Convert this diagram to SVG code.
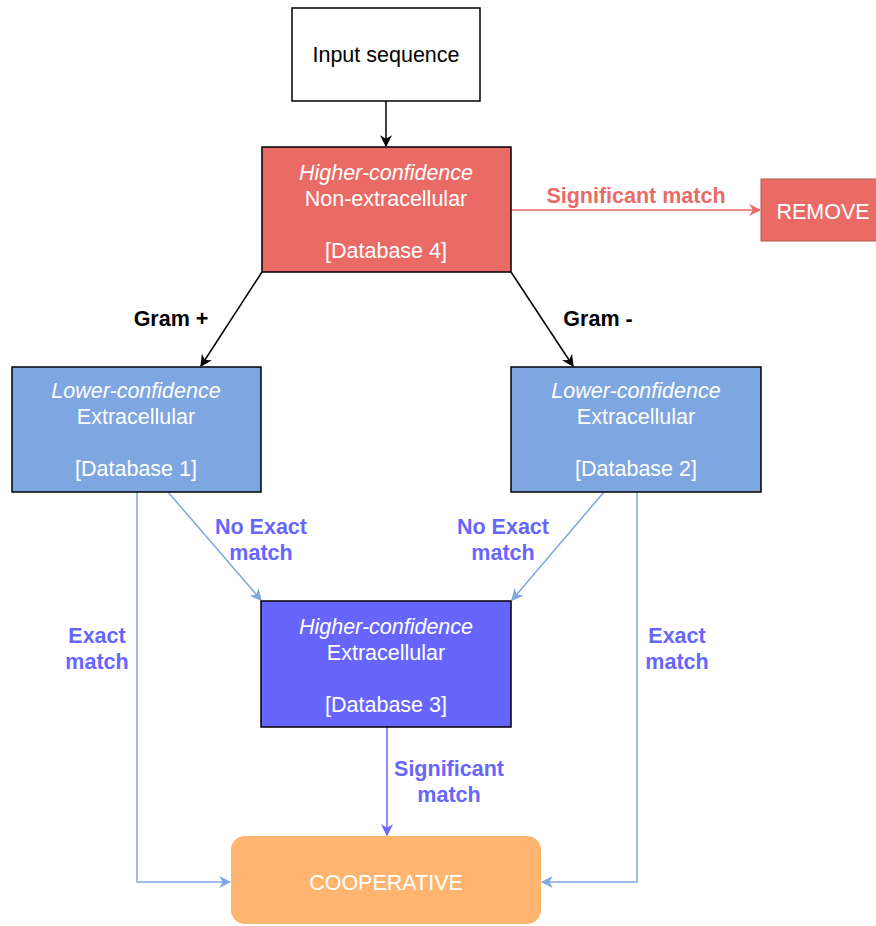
<svg xmlns="http://www.w3.org/2000/svg" width="876" height="926" viewBox="0 0 876 926">
<defs>
<style>
text{font-family:"Liberation Sans",Arial,sans-serif;font-size:21.5px;text-anchor:middle}
.w{fill:#ffffff}
.it{font-style:italic}
.b{font-weight:bold}
.lbk{fill:#000000}
.lpu{fill:#6666FF}
.lre{fill:#EA6B66}
.box{stroke:#000000;stroke-width:1.5}
.ck{fill:none;stroke:#000000;stroke-width:1.5}
.cr{fill:none;stroke:#EA6B66;stroke-width:1.5}
.cb{fill:none;stroke:#7EA6E0;stroke-width:1.5}
.cp{fill:none;stroke:#6666FF;stroke-width:1.5}
</style>
<marker id="ak" viewBox="0 0 10 10" refX="9" refY="5" markerWidth="8" markerHeight="8" markerUnits="strokeWidth" orient="auto"><path d="M0,0 L10,5 L0,10 L3,5 z" fill="#000000"/></marker>
<marker id="ar" viewBox="0 0 10 10" refX="9" refY="5" markerWidth="8" markerHeight="8" markerUnits="strokeWidth" orient="auto"><path d="M0,0 L10,5 L0,10 L3,5 z" fill="#EA6B66"/></marker>
<marker id="ab" viewBox="0 0 10 10" refX="9" refY="5" markerWidth="8" markerHeight="8" markerUnits="strokeWidth" orient="auto"><path d="M0,0 L10,5 L0,10 L3,5 z" fill="#7EA6E0"/></marker>
<marker id="ap" viewBox="0 0 10 10" refX="9" refY="5" markerWidth="8" markerHeight="8" markerUnits="strokeWidth" orient="auto"><path d="M0,0 L10,5 L0,10 L3,5 z" fill="#6666FF"/></marker>
</defs>
<rect width="876" height="926" fill="#ffffff"/>
<g id="connectors">
<line class="ck" x1="386" y1="101" x2="386" y2="146" marker-end="url(#ak)"/>
<line class="cr" x1="511" y1="210" x2="760" y2="210" marker-end="url(#ar)"/>
<line class="ck" x1="262" y1="272" x2="201" y2="366" marker-end="url(#ak)"/>
<line class="ck" x1="511" y1="272" x2="573" y2="366" marker-end="url(#ak)"/>
<line class="cb" x1="168" y1="492" x2="261" y2="600" marker-end="url(#ab)"/>
<line class="cb" x1="604" y1="492" x2="512" y2="600" marker-end="url(#ab)"/>
<polyline class="cb" points="137,492 137,882 230,882" marker-end="url(#ab)"/>
<polyline class="cb" points="637,492 637,882 542,882" marker-end="url(#ab)"/>
<line class="cp" x1="387" y1="727" x2="387" y2="835" marker-end="url(#ap)"/>
<text class="b lre" x="636" y="203">Significant match</text>
<text class="b lbk" x="171" y="326">Gram +</text>
<text class="b lbk" x="598" y="326">Gram -</text>
<text class="b lpu" x="261" y="534">No Exact</text>
<text class="b lpu" x="261" y="560">match</text>
<text class="b lpu" x="503" y="534">No Exact</text>
<text class="b lpu" x="503" y="560">match</text>
<text class="b lpu" x="97" y="643">Exact</text>
<text class="b lpu" x="97" y="669">match</text>
<text class="b lpu" x="677" y="643">Exact</text>
<text class="b lpu" x="677" y="669">match</text>
<text class="b lpu" x="449" y="776">Significant</text>
<text class="b lpu" x="449" y="802">match</text>
</g>
<g id="input">
<rect class="box" x="292" y="8" width="188" height="93" fill="#ffffff"/>
<text x="386" y="62" fill="#000000">Input sequence</text>
</g>
<g id="db4">
<rect class="box" x="262" y="147" width="249" height="125" fill="#EA6B66"/>
<text class="w it" x="386" y="180">Higher-confidence</text>
<text class="w" x="386" y="206">Non-extracellular</text>
<text class="w" x="386" y="258">[Database 4]</text>
</g>
<g id="remove">
<rect x="761" y="179" width="120" height="62" fill="#EA6B66" stroke="#B85450" stroke-width="1"/>
<text class="w" x="823" y="219">REMOVE</text>
</g>
<g id="db1">
<rect class="box" x="12" y="367" width="249" height="125" fill="#7EA6E0"/>
<text class="w it" x="136" y="398">Lower-confidence</text>
<text class="w" x="136" y="424">Extracellular</text>
<text class="w" x="136" y="476">[Database 1]</text>
</g>
<g id="db2">
<rect class="box" x="511" y="367" width="250" height="125" fill="#7EA6E0"/>
<text class="w it" x="636" y="398">Lower-confidence</text>
<text class="w" x="636" y="424">Extracellular</text>
<text class="w" x="636" y="476">[Database 2]</text>
</g>
<g id="db3">
<rect class="box" x="261" y="601" width="250" height="126" fill="#6666FF"/>
<text class="w it" x="386" y="634">Higher-confidence</text>
<text class="w" x="386" y="660">Extracellular</text>
<text class="w" x="386" y="712">[Database 3]</text>
</g>
<g id="cooperative">
<rect x="231" y="836" width="310" height="88" rx="14" ry="14" fill="#FFB570"/>
<text class="w" x="386" y="890">COOPERATIVE</text>
</g>
</svg>
